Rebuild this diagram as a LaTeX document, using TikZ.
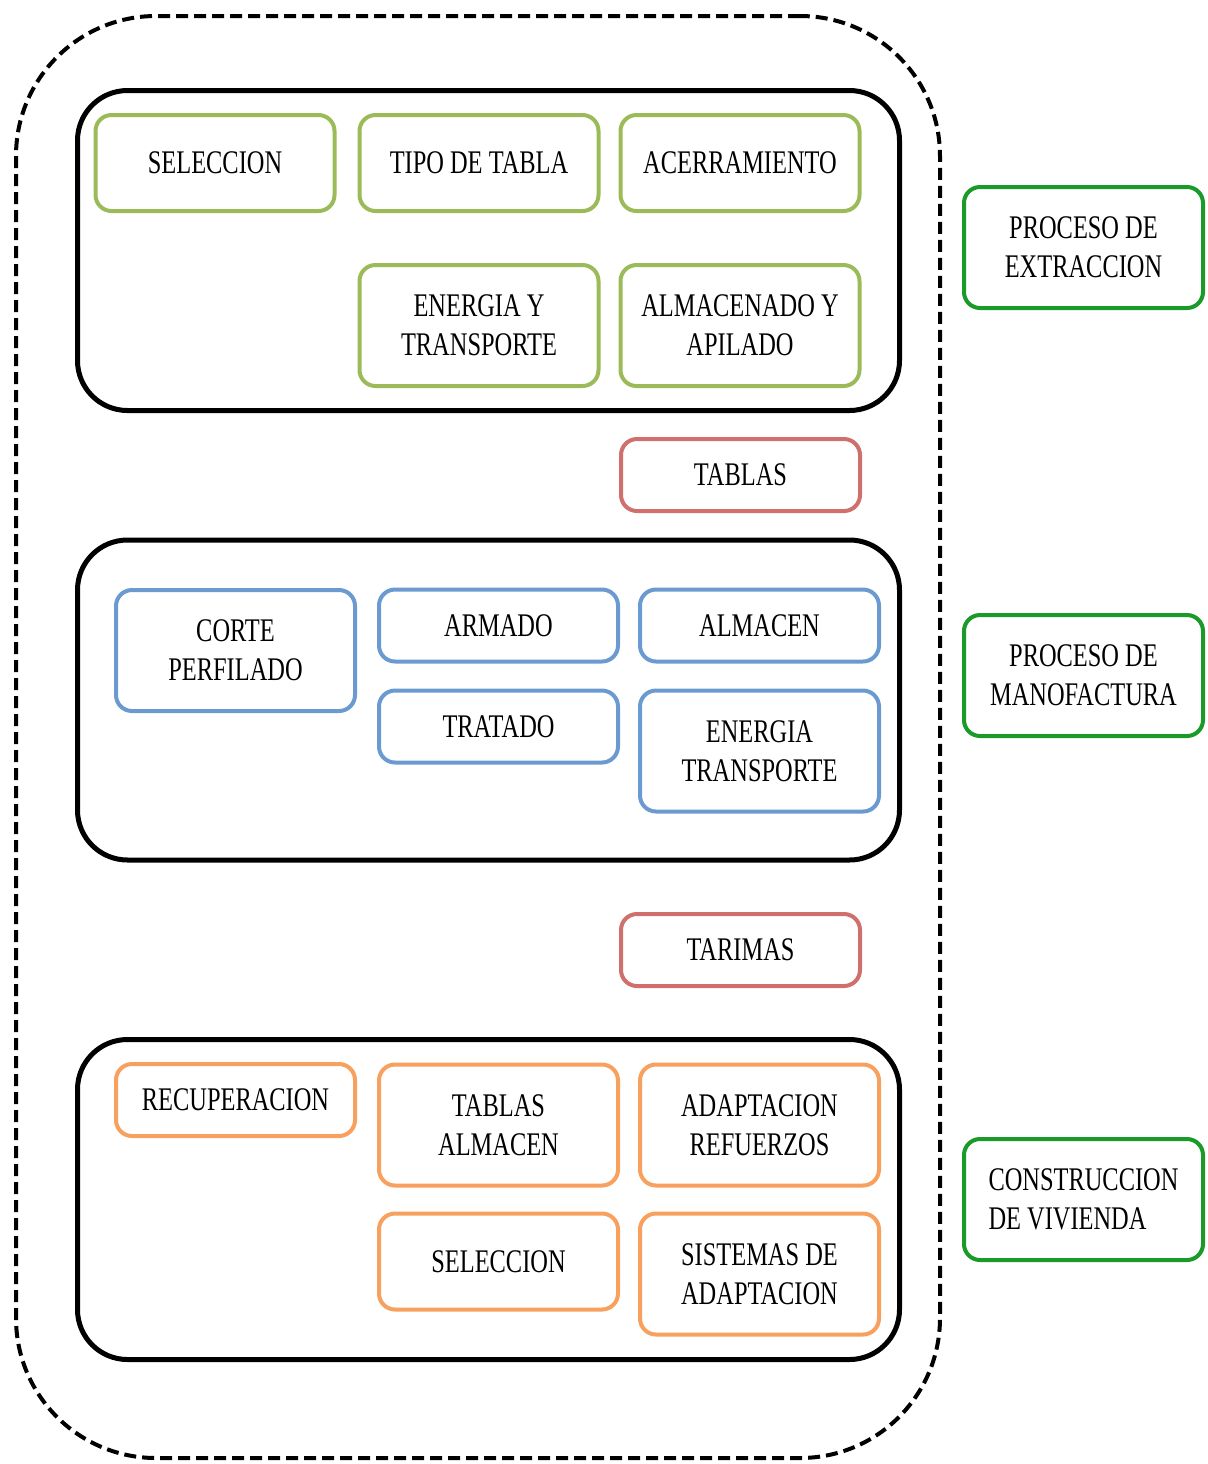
\documentclass[tikz,border=0pt]{standalone}
\usepackage{fontspec}
\setmainfont{Liberation Serif}[FakeStretch=0.74]
\usetikzlibrary{positioning}
\definecolor{verdeclaro}{HTML}{9BBB59}
\definecolor{rojo}{HTML}{D0706D}
\definecolor{azul}{HTML}{6A9AD0}
\definecolor{naranja}{HTML}{F8A05E}
\definecolor{verde}{HTML}{1A9A28}

\begin{document}
\begin{tikzpicture}[x=0.5pt, y=-0.5pt,
    caja/.style = {draw, rounded corners=8pt, line width=2pt, minimum width=119.5pt,
                   inner sep=0pt, outer sep=0pt, align=center,
                   font=\fontsize{16.5}{19.5}\selectfont},
    corta/.style = {caja, minimum height=36pt},
    media/.style = {caja, minimum height=48pt},
    alta/.style = {caja, minimum height=60.5pt},
    grupo/.style = {draw, line width=2.5pt, rounded corners=25pt,
                    minimum width=411pt, minimum height=160pt},
    marco/.style = {draw, line width=2pt, dash pattern=on 6pt off 3pt, rounded corners=70pt,
                    minimum width=462pt, minimum height=721pt}]
    \useasboundingbox (0,0) rectangle (1207,1464);

    % contenedores
    \node[marco] (todo) at (478,737) {};
    \node[grupo] (ext) at (488.5,250.5) {};
    \node[grupo] (man) at (488.5,700) {};
    \node[grupo] (cons) at (488.5,1199.5) {};

    % extraccion
    \node[media, draw=verdeclaro] (sel) at (215,163) {SELECCION};
    \node[media, draw=verdeclaro, right=12.5pt of sel] (tipo) {TIPO DE TABLA};
    \node[media, draw=verdeclaro, right=11pt of tipo] (acer) {ACERRAMIENTO};
    \node[alta, draw=verdeclaro, below=27pt of tipo] (ener) {ENERGIA Y\\TRANSPORTE};
    \node[alta, draw=verdeclaro, below=27pt of acer] (alm) {ALMACENADO Y\\APILADO};
    \node[corta, draw=rojo] (tab) at (740.5,475) {TABLAS};

    % manofactura
    \node[alta, draw=azul] (corte) at (235.5,650.5) {CORTE\\PERFILADO};
    \node[corta, draw=azul] (arm) at (498.5,625.5) {ARMADO};
    \node[corta, draw=azul, right=11pt of arm] (almc) {ALMACEN};
    \node[corta, draw=azul, below=14.5pt of arm] (trat) {TRATADO};
    \node[alta, draw=azul, below=14.5pt of almc] (enert) {ENERGIA\\TRANSPORTE};
    \node[corta, draw=rojo] (tar) at (740.5,950) {TARIMAS};

    % construccion
    \node[corta, draw=naranja] (recu) at (235.5,1100) {RECUPERACION};
    \node[alta, draw=naranja] (tabal) at (498.5,1125) {TABLAS\\ALMACEN};
    \node[alta, draw=naranja, right=11pt of tabal] (adap) {ADAPTACION\\REFUERZOS};
    \node[media, draw=naranja, below=14pt of tabal] (sel2) {SELECCION};
    \node[alta, draw=naranja, below=14pt of adap] (sist) {SISTEMAS DE\\ADAPTACION};

    % procesos
    \node[alta, draw=verde] (pext) at (1083.5,247.5) {PROCESO DE\\EXTRACCION};
    \node[alta, draw=verde] (pman) at (1083.5,675.5) {PROCESO DE\\MANOFACTURA};
    \node[alta, draw=verde, align=left] (pcons) at (1083.5,1199.5) {CONSTRUCCION\\DE VIVIENDA};
\end{tikzpicture}
\end{document}
